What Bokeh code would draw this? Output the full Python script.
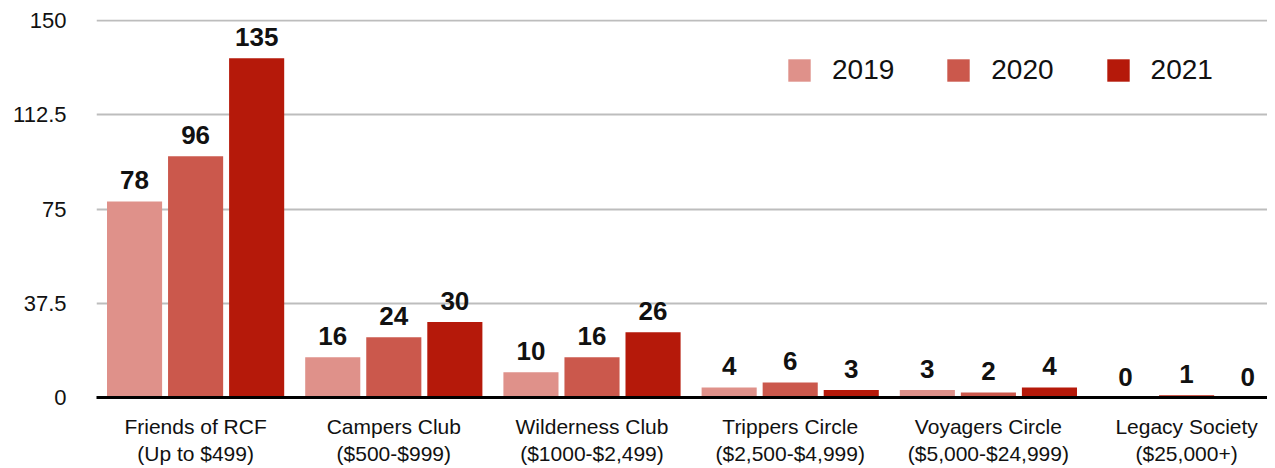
import numpy as np
from bokeh.plotting import figure
from bokeh.models import ColumnDataSource, Range1d, FixedTicker, CustomJSTickFormatter, Legend, LegendItem
from bokeh.core.properties import value
from bokeh.embed import file_html
from bokeh.resources import INLINE

categories = ["Friends of RCF\n(Up to $499)", "Campers Club\n($500-$999)", "Wilderness Club\n($1000-$2,499)",
              "Trippers Circle\n($2,500-$4,999)", "Voyagers Circle\n($5,000-$24,999)", "Legacy Society\n($25,000+)"]
years = ["2019", "2020", "2021"]
v2019 = [78, 16, 10, 4, 3, 0]
v2020 = [96, 24, 16, 6, 2, 1]
v2021 = [135, 30, 26, 3, 4, 0]
y_ticks = [0, 37.5, 75, 112.5, 150]
colors = ["#df918a", "#cb584c", "#b5190a"]

series = [v2019, v2020, v2021]
offsets = [-0.308, 0.0, 0.308]
bar_w = 0.278
FONT = "Liberation Sans"

LEFT = 96
W = 1267
p = figure(width=W, height=468, output_backend="svg", toolbar_location=None,
           x_range=Range1d(0, (W - LEFT) / 198.2), y_range=Range1d(0, 150.4),
           min_border_left=LEFT, min_border_right=0, min_border_top=19, min_border_bottom=71)
p.outline_line_color = None
p.background_fill_color = "white"

items = []
for yr, vals, off, col in zip(years, series, offsets, colors):
    xs = np.arange(len(categories)) + 0.5 + off
    src = ColumnDataSource(dict(x=xs, top=vals, lab=[str(v) for v in vals]))
    r = p.vbar(x="x", top="top", bottom=0, width=bar_w, source=src, fill_color=col, line_color=None)
    p.text(x="x", y="top", text="lab", source=src, text_align="center", text_baseline="alphabetic",
           y_offset=-21, text_font=value(FONT), text_font_style="bold", text_font_size="26px",
           text_color="#111111")
    items.append(LegendItem(label=yr, renderers=[r]))

legend = Legend(items=items, orientation="horizontal", location=(689, 311),
                glyph_width=28, glyph_height=28, label_standoff=19, spacing=50,
                padding=0, margin=0, border_line_alpha=0, background_fill_alpha=0,
                label_text_font=FONT, label_text_font_size="28px", label_text_color="#111111")
p.add_layout(legend, "center")

# axes
p.xaxis.ticker = FixedTicker(ticks=[i + 0.5 for i in range(len(categories))])
p.xaxis.formatter = CustomJSTickFormatter(args=dict(labels=categories),
                                          code="return labels[Math.floor(tick)];")
p.xaxis.major_tick_line_color = None
p.xaxis.minor_tick_line_color = None
p.xaxis.axis_line_color = "black"
p.xaxis.axis_line_width = 3
p.xaxis.major_label_text_font = FONT
p.xaxis.major_label_text_font_size = "21px"
p.xaxis.major_label_text_color = "#111111"
p.xaxis.major_label_standoff = 11

p.yaxis.ticker = FixedTicker(ticks=y_ticks)
p.yaxis.formatter = CustomJSTickFormatter(code="return tick.toString();")
p.yaxis.major_tick_line_color = None
p.yaxis.minor_tick_line_color = None
p.yaxis.axis_line_color = None
p.yaxis.major_label_text_font = FONT
p.yaxis.major_label_text_font_size = "22px"
p.yaxis.major_label_text_color = "#111111"
p.yaxis.major_label_standoff = 24

p.xgrid.grid_line_color = None
p.ygrid.grid_line_color = "#bdbdbd"
p.ygrid.grid_line_width = 2

open("out.html", "w").write(file_html(p, INLINE))
